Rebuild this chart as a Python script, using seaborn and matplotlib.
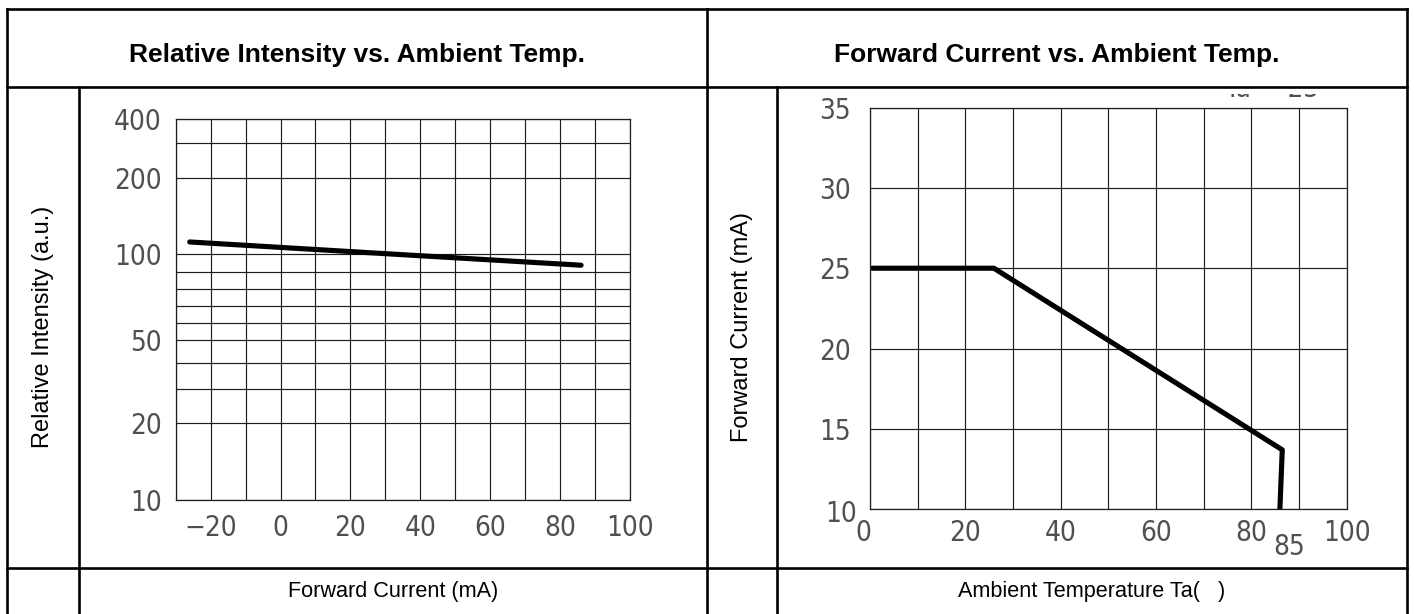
import os
import numpy as np
import matplotlib
matplotlib.use("Agg")
import matplotlib.pyplot as plt
import seaborn as sns
from matplotlib import font_manager
from matplotlib.lines import Line2D
from matplotlib.patches import Rectangle
from matplotlib.ticker import FixedLocator, FixedFormatter
from matplotlib.transforms import ScaledTranslation

# ---------------- data ----------------
# Relative intensity vs. ambient temperature
ri_temp = [-26, 33, 86]
ri_value = [111.9, 100, 93.6]

# Forward current derating vs. ambient temperature
fc_temp = [0.5, 26, 86.5, 86]
fc_current = [25, 25, 13.7, 10]

ri_xticks = [-20, 0, 20, 40, 60, 80, 100]
ri_xgrid = [-30, -20, -10, 0, 10, 20, 30, 40, 50, 60, 70, 80, 90, 100]
ri_yticks = [10, 20, 50, 100, 200, 400]
ri_ygrid = [10, 20, 30, 40, 50, 60, 70, 80, 90, 100, 200, 300, 400]

fc_xticks = [0, 20, 40, 60, 80, 100]
fc_xgrid = [0, 10, 20, 30, 40, 50, 60, 70, 80, 90, 100]
fc_yticks = [10, 15, 20, 25, 30, 35]

titles = ["Relative Intensity vs. Ambient Temp.", "Forward Current vs. Ambient Temp."]
ylabels = ["Relative Intensity (a.u.)", "Forward Current (mA)"]
xlabels = ["Forward Current (mA)", "Ambient Temperature Ta(   )"]
cond_text = "Ta = 25"
limit_temp = 85

# ---------------- styling ----------------
sns.set_theme(style="white")
plt.rcParams["font.family"] = ["Liberation Sans", "DejaVu Sans"]

W, H = 1414, 614
fig = plt.figure(figsize=(W / 100, H / 100), dpi=100)
fig.patch.set_facecolor("white")


def fx(px):
    return px / W


def fy(py):
    return 1 - py / H


def pick_tick_font():
    """Narrow, light face for the chart-paper numerals."""
    order = [
        "notosans-condensedlight",
        "notosans-extracondensedlight",
        "notosans-semicondensedlight",
        "liberationsansnarrow-regular",
        "notosans-condensed",
        "dejavusanscondensed",
        "dejavusans-extralight",
    ]
    found = {}
    for f in font_manager.fontManager.ttflist:
        stem = os.path.splitext(os.path.basename(f.fname))[0].lower()
        if stem in order and stem not in found:
            found[stem] = f.fname
    for stem in order:
        if stem in found:
            return font_manager.FontProperties(fname=found[stem])
    return font_manager.FontProperties(family="DejaVu Sans", weight="light")


tick_fp = pick_tick_font()
TICK_SIZE = 20
TICK_COLOR = "#505050"
GRID_KW = dict(color="#1e1e1e", linewidth=0.85)


def style_ticks(ax):
    for lbl in ax.get_xticklabels() + ax.get_yticklabels():
        lbl.set_fontproperties(tick_fp)
        lbl.set_fontsize(TICK_SIZE)
        lbl.set_color(TICK_COLOR)


# ---------------- table frame ----------------
FRAME_LW = 1.9


def hline(y, x0, x1):
    fig.add_artist(Line2D([fx(x0), fx(x1)], [fy(y), fy(y)], transform=fig.transFigure,
                          color="black", lw=FRAME_LW, solid_capstyle="projecting",
                          zorder=5))


def vline(x, y0, y1):
    fig.add_artist(Line2D([fx(x), fx(x)], [fy(y0), fy(y1)], transform=fig.transFigure,
                          color="black", lw=FRAME_LW, solid_capstyle="projecting",
                          zorder=5))


# test-condition note; only the foot of the glyphs shows below the header cell
fig.text(fx(1272), fy(97), cond_text, ha="center", va="baseline",
         fontproperties=tick_fp, fontsize=TICK_SIZE, color=TICK_COLOR, zorder=1)
fig.add_artist(Rectangle((fx(1150), fy(93.5)), fx(200), (93.5 - 68) / H,
                         transform=fig.transFigure, facecolor="white",
                         edgecolor="none", zorder=2))

hline(9, 6.5, 1407)
hline(87, 6.5, 1407)
hline(568, 6.5, 1407)
vline(6.5, 9, 620)
vline(707, 9, 620)
vline(1407, 9, 620)
vline(79, 87, 620)
vline(777, 87, 620)

# header titles
for cx, t in zip([357, 1057], titles):
    fig.text(fx(cx), fy(55), t, ha="center", va="center", fontsize=19,
             fontweight="bold", color="black", zorder=3)

# rotated axis titles in the narrow side cells
for cx, t in zip([43, 742], ylabels):
    fig.text(fx(cx), fy(327), t, ha="center", va="center", rotation=90,
             fontsize=17, color="black")

# axis titles in the bottom row
for cx, t in zip([393, 1092], xlabels):
    fig.text(fx(cx), fy(591), t, ha="center", va="center", fontsize=15.6, color="black")

# ---------------- left chart: semi-log chart paper ----------------
paper_frac = [0, 0.2013, 0.2906, 0.3588, 0.4199, 0.4638, 0.5084,
              0.5538, 0.5992, 0.6449, 0.8444, 0.9362, 1.0]
_lv = np.log10(ri_ygrid)
_s0 = (paper_frac[1] - paper_frac[0]) / (_lv[1] - _lv[0])
_s1 = (paper_frac[-1] - paper_frac[-2]) / (_lv[-1] - _lv[-2])


def paper_fwd(v):
    lv = np.log10(np.clip(np.asarray(v, dtype=float), 1e-12, None))
    out = np.interp(lv, _lv, paper_frac)
    out = np.where(lv < _lv[0], paper_frac[0] + (lv - _lv[0]) * _s0, out)
    out = np.where(lv > _lv[-1], paper_frac[-1] + (lv - _lv[-1]) * _s1, out)
    return out


def paper_inv(f):
    f = np.asarray(f, dtype=float)
    lv = np.interp(f, paper_frac, _lv)
    lv = np.where(f < paper_frac[0], _lv[0] + (f - paper_frac[0]) / _s0, lv)
    lv = np.where(f > paper_frac[-1], _lv[-1] + (f - paper_frac[-1]) / _s1, lv)
    return 10 ** lv


axL = fig.add_axes([fx(175.7), fy(500), (630 - 175.7) / W, (500 - 119) / H])
sns.lineplot(x=ri_temp, y=ri_value, ax=axL, color="black", linewidth=3.7,
             sort=False, estimator=None)
axL.set_yscale("function", functions=(paper_fwd, paper_inv))
axL.set_xlim(-30, 100)
axL.set_ylim(10, 400)
axL.xaxis.set_major_locator(FixedLocator(ri_xticks))
axL.xaxis.set_major_formatter(FixedFormatter([str(v).replace("-", "\u2212") for v in ri_xticks]))
axL.xaxis.set_minor_locator(FixedLocator(ri_xgrid))
axL.yaxis.set_major_locator(FixedLocator(ri_yticks))
axL.yaxis.set_major_formatter(FixedFormatter([str(v) for v in ri_yticks]))
axL.yaxis.set_minor_locator(FixedLocator(ri_ygrid))

# ---------------- right chart: derating curve ----------------
axR = fig.add_axes([fx(870), fy(509.3), (1346.6 - 870) / W, (509.3 - 107.5) / H])
sns.lineplot(x=fc_temp, y=fc_current, ax=axR, color="black", linewidth=3.7,
             sort=False, estimator=None)
axR.set_xlim(0, 100)
axR.set_ylim(10, 35)
axR.xaxis.set_major_locator(FixedLocator(fc_xticks))
axR.xaxis.set_major_formatter(FixedFormatter([str(v) for v in fc_xticks]))
axR.xaxis.set_minor_locator(FixedLocator(fc_xgrid))
axR.yaxis.set_major_locator(FixedLocator(fc_yticks))
axR.yaxis.set_major_formatter(FixedFormatter([str(v) for v in fc_yticks]))

for ax in (axL, axR):
    ax.set(xlabel="", ylabel="")
    ax.set_facecolor("white")
    ax.grid(True, which="both", **GRID_KW)
    ax.set_axisbelow(True)
    ax.tick_params(which="both", length=0)
    for sp in ax.spines.values():
        sp.set_visible(True)
        sp.set_color("#1e1e1e")
        sp.set_linewidth(0.9)

axL.tick_params(axis="y", pad=10)
axL.tick_params(axis="x", pad=10)
axR.tick_params(axis="y", pad=14)
axR.tick_params(axis="x", pad=7)
style_ticks(axL)
style_ticks(axR)

# origin labels of the derating chart sit slightly apart
xt0 = axR.get_xticklabels()[0]
xt0.set_transform(xt0.get_transform() + ScaledTranslation(-0.07, 0, fig.dpi_scale_trans))
yt0 = axR.get_yticklabels()[0]
yt0.set_transform(yt0.get_transform() + ScaledTranslation(0.06, -0.02, fig.dpi_scale_trans))

# 85 degC limit marker below the axis
axR.annotate(str(limit_temp), xy=(limit_temp, 10), xytext=(10, -17),
             textcoords="offset points", ha="center", va="top",
             fontproperties=tick_fp, fontsize=TICK_SIZE, color=TICK_COLOR,
             annotation_clip=False)

fig.savefig("out.png", dpi=100, facecolor="white")
